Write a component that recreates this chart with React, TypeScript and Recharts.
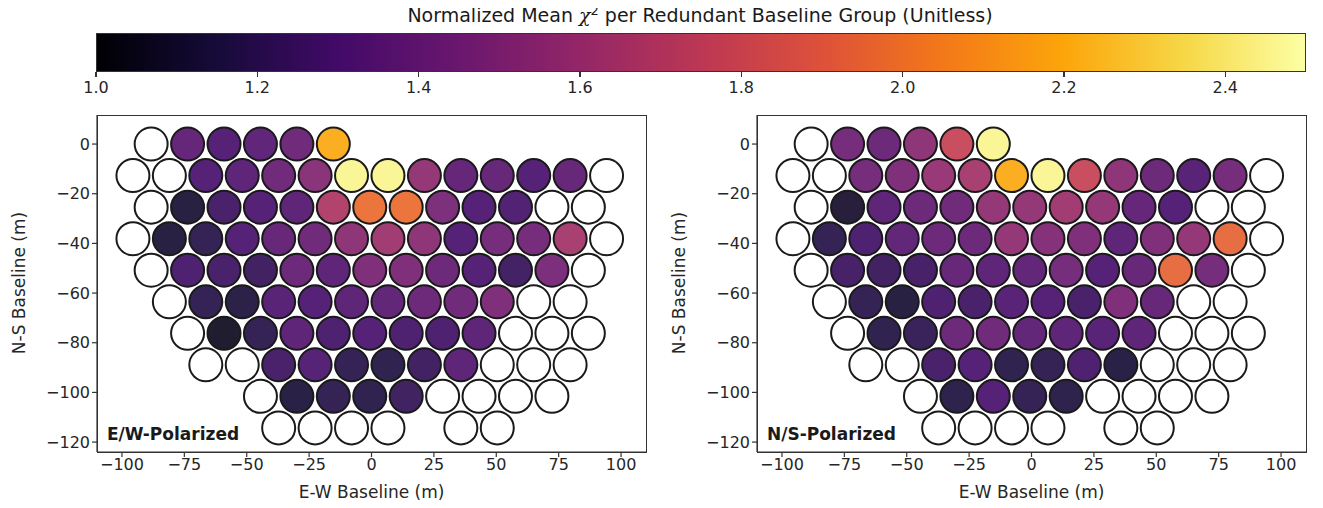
import React from "react";
import { ScatterChart, Scatter, XAxis, YAxis } from "recharts";

/* ---------- DATA ---------- */

// hex grid: row N-S offset (m), first column index (half-spacing units)
const rowY = [0, -12.7, -25.4, -38.1, -50.8, -63.5, -76.2, -88.9, -101.6, -114.3];
const rowStartK = [1, 0, 1, 0, 1, 2, 3, 4, 7, 8];
const X0 = -95.6;
const HALF_STEP = 7.3;

// null = no data (white), 0 = no antenna
const ewValues: (number | null)[][] = [
  [null, 1.37, 1.3, 1.35, 1.42, 2.2],
  [null, null, 1.3, 1.34, 1.42, 1.52, 2.46, 2.46, 1.56, 1.37, 1.38, 1.3, 1.38, null],
  [null, 1.12, 1.26, 1.3, 1.34, 1.68, 1.98, 1.98, 1.47, 1.3, 1.29, null, null],
  [null, 1.12, 1.18, 1.3, 1.38, 1.42, 1.54, 1.62, 1.54, 1.3, 1.44, 1.44, 1.64, null],
  [null, 1.28, 1.26, 1.23, 1.4, 1.34, 1.48, 1.48, 1.4, 1.3, 1.24, 1.46, null],
  [null, 1.18, 1.14, 1.32, 1.3, 1.34, 1.36, 1.4, 1.42, 1.48, null, null],
  [null, 1.06, 1.18, 1.34, 1.28, 1.3, 1.28, 1.28, 1.34, null, null, null],
  [null, null, 1.26, 1.31, 1.18, 1.16, 1.23, 1.34, null, null, null],
  [null, 1.13, 1.18, 1.16, 1.22, null, null, null, null],
  [null, null, null, null, 0, null, null],
];

const nsValues: (number | null)[][] = [
  [null, 1.44, 1.4, 1.54, 1.78, 2.46],
  [null, null, 1.44, 1.48, 1.58, 1.64, 2.2, 2.46, 1.78, 1.54, 1.4, 1.32, 1.44, null],
  [null, 1.1, 1.34, 1.4, 1.42, 1.56, 1.56, 1.62, 1.56, 1.37, 1.3, null, null],
  [null, 1.18, 1.28, 1.36, 1.4, 1.4, 1.56, 1.5, 1.48, 1.34, 1.48, 1.56, 1.95, null],
  [null, 1.25, 1.23, 1.25, 1.38, 1.34, 1.36, 1.44, 1.3, 1.38, 1.95, 1.44, null],
  [null, 1.18, 1.12, 1.28, 1.26, 1.32, 1.3, 1.26, 1.48, 1.38, null, null],
  [null, 1.16, 1.2, 1.4, 1.42, 1.36, 1.34, 1.32, 1.34, null, null, null],
  [null, null, 1.26, 1.3, 1.16, 1.18, 1.28, 1.13, null, null, null],
  [null, 1.15, 1.3, 1.18, 1.15, null, null, null, null],
  [null, null, null, null, 0, null, null],
];

const xTicks = [-100, -75, -50, -25, 0, 25, 50, 75, 100];
const yTicks = [0, -20, -40, -60, -80, -100, -120];
const cbTicks = [1.0, 1.2, 1.4, 1.6, 1.8, 2.0, 2.2, 2.4];
const VMIN = 1.0;
const VMAX = 2.5;

/* ---------- COLORMAP ---------- */

const inferno = [
  "#000004", "#160b39", "#420a68", "#6a176e", "#932667", "#bc3754",
  "#dd513a", "#f37819", "#fca50a", "#f6d746", "#fcffa4",
];

function hexToRgb(h: string) {
  return [1, 3, 5].map((i) => parseInt(h.slice(i, i + 2), 16));
}

function colorFor(v: number) {
  const t = Math.min(1, Math.max(0, (v - VMIN) / (VMAX - VMIN))) * 10;
  const i = Math.min(9, Math.floor(t));
  const f = t - i;
  const a = hexToRgb(inferno[i]);
  const b = hexToRgb(inferno[i + 1]);
  const c = a.map((x, j) => Math.round(x + (b[j] - x) * f));
  return `rgb(${c[0]},${c[1]},${c[2]})`;
}

function buildPoints(values: (number | null)[][]) {
  const pts: any[] = [];
  values.forEach((row, r) => {
    row.forEach((v, i) => {
      if (v === 0) return;
      pts.push({
        x: X0 + (rowStartK[r] + 2 * i) * HALF_STEP,
        y: rowY[r],
        v,
      });
    });
  });
  return pts;
}

/* ---------- SHAPES ---------- */

function Dish(props: any) {
  const { cx, cy, payload } = props;
  const fill = payload.v == null ? "#ffffff" : colorFor(payload.v);
  return (
    <g>
      <circle cx={cx} cy={cy} r={16.5} fill="#fff" />
      <circle cx={cx} cy={cy} r={16.5} fill={fill} fillOpacity={0.9} stroke="#1a1a1a" strokeWidth={2} />
    </g>
  );
}

const FONT = "DejaVu Sans, sans-serif";
const TEXT = "#262626";
const tickStyle = { fill: TEXT, fontSize: 16, fontFamily: FONT };
const axisStroke = { stroke: "#333", strokeWidth: 1.2 };
const fmt = (v: number) => String(v).replace("-", "\u2212");

function Panel({ values, label, left }: any) {
  const data = buildPoints(values);
  return (
    <div style={{ position: "absolute", left, top: 100, width: 660, height: 408 }}>
      <ScatterChart width={660} height={408} margin={{ top: 15, right: 14, bottom: 0, left: 37 }}>
        <XAxis
          type="number"
          dataKey="x"
          domain={[-110, 110]}
          ticks={xTicks}
          tickFormatter={fmt}
          tick={tickStyle}
          axisLine={axisStroke}
          tickLine={axisStroke}
          tickSize={5}
          height={56}
          allowDataOverflow
        />
        <YAxis
          type="number"
          dataKey="y"
          domain={[-124, 11.7]}
          ticks={yTicks}
          tickFormatter={fmt}
          tick={tickStyle}
          axisLine={axisStroke}
          tickLine={axisStroke}
          tickSize={5}
          width={60}
          allowDataOverflow
        />
        <Scatter data={data} shape={<Dish />} isAnimationActive={false} />
      </ScatterChart>
      {/* frame */}
      <div style={{ position: "absolute", left: 97, top: 15, width: 548, height: 336, border: "1.2px solid #333", pointerEvents: "none" }} />
      <div style={{ position: "absolute", left: 107, top: 324, fontFamily: FONT, fontWeight: "bold", fontSize: 17, color: "#1a1a1a" }}>
        {label}
      </div>
      <div style={{ position: "absolute", left: 97, width: 549, top: 382, textAlign: "center", fontFamily: FONT, fontSize: 17, color: TEXT }}>
        E-W Baseline (m)
      </div>
      <div style={{ position: "absolute", left: 19, top: 183, width: 0, height: 0 }}>
        <div style={{ position: "absolute", transform: "translate(-50%,-50%) rotate(-90deg)", whiteSpace: "nowrap", fontFamily: FONT, fontSize: 17, color: TEXT }}>
          N-S Baseline (m)
        </div>
      </div>
    </div>
  );
}

/* ---------- COLORBAR ---------- */

function ColorBar() {
  const L = 96;
  const W = 1210;
  const grad = `linear-gradient(to right, ${inferno.map((c, i) => `${c} ${i * 10}%`).join(", ")})`;
  return (
    <div style={{ position: "absolute", left: 0, top: 0 }}>
      <div style={{ position: "absolute", left: 0, width: 1400, top: 3, lineHeight: "24px", textAlign: "center", fontFamily: FONT, fontSize: 19, color: "#1a1a1a", whiteSpace: "nowrap" }}>
        Normalized Mean <span style={{ fontFamily: "DejaVu Serif, serif", fontStyle: "italic" }}>χ</span>
        <sup style={{ fontSize: 13, lineHeight: 0, verticalAlign: "0.55em" }}>2</sup> per Redundant Baseline Group (Unitless)
      </div>
      <div style={{ position: "absolute", left: L, top: 33, width: W, height: 39, background: grad, boxSizing: "border-box", border: "1.2px solid #333" }} />
      {cbTicks.map((t) => {
        const x = L + ((t - VMIN) / (VMAX - VMIN)) * W;
        return (
          <React.Fragment key={t}>
            <div style={{ position: "absolute", left: x - 0.6, top: 72, width: 1.2, height: 5, background: "#333" }} />
            <div style={{ position: "absolute", left: x - 30, width: 60, top: 78, textAlign: "center", fontFamily: FONT, fontSize: 16, color: TEXT }}>
              {t.toFixed(1)}
            </div>
          </React.Fragment>
        );
      })}
    </div>
  );
}

export default function App() {
  return (
    <div style={{ position: "relative", width: 1323, height: 508, margin: -8, background: "#fff", overflow: "hidden" }}>
      <ColorBar />
      <Panel values={ewValues} label="E/W-Polarized" left={0} />
      <Panel values={nsValues} label="N/S-Polarized" left={660} />
    </div>
  );
}
